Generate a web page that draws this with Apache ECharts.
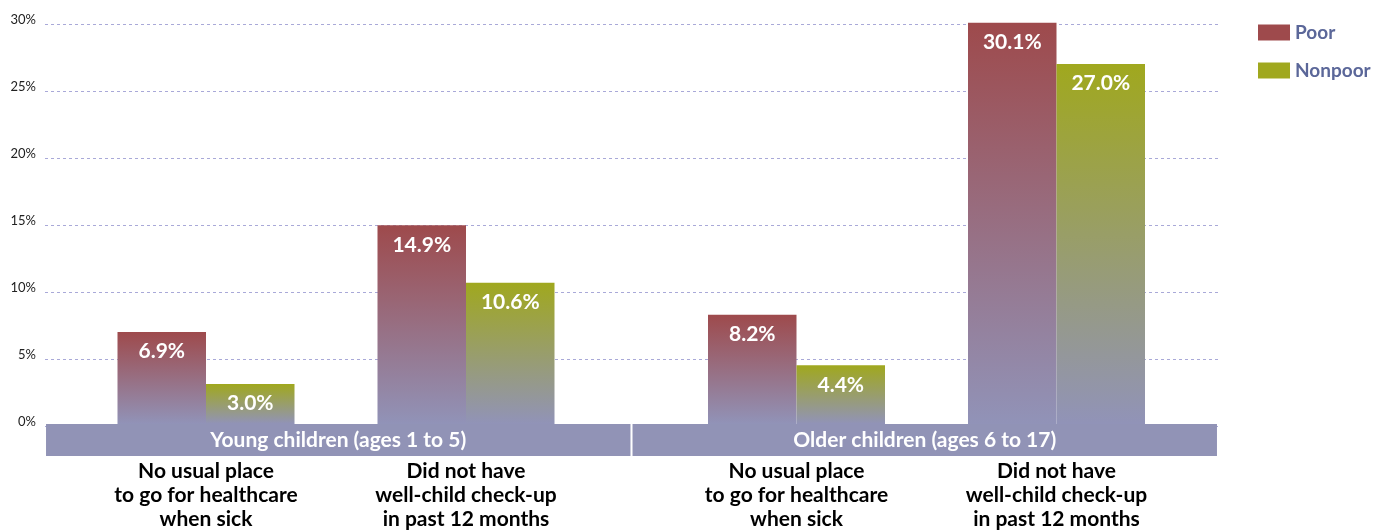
<!DOCTYPE html>
<html><head><meta charset="utf-8">
<script src="https://cdn.jsdelivr.net/npm/echarts@6/dist/echarts.min.js"></script>
<style>html,body{margin:0;padding:0;background:#fff;overflow:hidden}#c{width:1395px;height:531px}</style>
</head><body><div id="c"></div>
<script>
const groups = ['Young children (ages 1 to 5)', 'Older children (ages 6 to 17)'];
const measures = ['No usual place\nto go for healthcare\nwhen sick', 'Did not have\nwell-child check-up\nin past 12 months'];
const poorYoung = [6.9, 14.9];
const nonpoorYoung = [3.0, 10.6];
const poorOlder = [8.2, 30.1];
const nonpoorOlder = [4.4, 27.0];
const yTicks = [0, 5, 10, 15, 20, 25, 30];

const FONT = 'Lato, "DejaVu Sans", sans-serif';
const BOTTOM = '#9193b8';
function grad(top){
  return {type:'linear',x:0,y:0,x2:0,y2:1,colorStops:[{offset:0,color:top},{offset:1,color:BOTTOM}]};
}
const POOR = '#9e4a4c', NONPOOR = '#a0a81e';
const chart = echarts.init(document.getElementById('c'));
const gTop = 24, gHeight = 402;
function barSeries(name, data, idx, color){
  return {
    name, type:'bar', xAxisIndex:idx, yAxisIndex:idx, data, barWidth:88.5, barGap:'0%', clip:false,
    itemStyle:{color:grad(color)},
    label:{show:true, position:'insideTop', distance:9, color:'#fff', fontFamily:FONT, fontWeight:'bold', fontSize:21,
      formatter:p=>p.value.toFixed(1)+'%'}
  };
}
const catAxis = idx => ({
  type:'category', gridIndex:idx, data:measures, axisLine:{show:false}, axisTick:{show:false},
  axisLabel:{margin:35, color:'#000', fontFamily:FONT, fontWeight:'bold', fontSize:21, lineHeight:24, interval:0}
});
const hiddenY = idx => ({type:'value', gridIndex:idx, min:0, max:30, show:false});
chart.setOption({
  animation:false,
  legend:{
    orient:'vertical', left:1253, top:18, itemWidth:32, itemHeight:16, itemGap:19,
    textStyle:{color:'#5b6799', fontFamily:FONT, fontWeight:'bold', fontSize:19},
    data:[{name:'Poor', icon:'rect', itemStyle:{color:POOR}}, {name:'Nonpoor', icon:'rect', itemStyle:{color:NONPOOR}}]
  },
  grid:[
    {left:45, right:177, top:gTop, height:gHeight},
    {left:76, width:520, top:gTop, height:gHeight},
    {left:666.5, width:520, top:gTop, height:gHeight},
    {left:45, right:177, top:424, height:32}
  ],
  xAxis:[
    {type:'value', gridIndex:0, show:false},
    catAxis(1), catAxis(2),
    {type:'category', gridIndex:3, data:groups, show:false}
  ],
  yAxis:[
    {type:'value', gridIndex:0, min:yTicks[0], max:yTicks[yTicks.length-1], interval:5,
     axisLine:{show:false}, axisTick:{show:false},
     splitLine:{show:true, lineStyle:{color:'#a9a9d8', type:[3,3], width:1}},
     axisLabel:{margin:9, color:'#222', fontFamily:FONT, fontSize:13, verticalAlign:'bottom', lineHeight:8,
       formatter:v=>v+'%'}},
    hiddenY(1), hiddenY(2),
    {type:'value', gridIndex:3, min:0, max:1, show:false}
  ],
  series:[
    barSeries('Poor', poorYoung, 1, POOR),
    barSeries('Nonpoor', nonpoorYoung, 1, NONPOOR),
    barSeries('Poor', poorOlder, 2, POOR),
    barSeries('Nonpoor', nonpoorOlder, 2, NONPOOR),
    {type:'bar', xAxisIndex:3, yAxisIndex:3, data:groups.map(()=>1), barCategoryGap:'0.35%', silent:true,
     itemStyle:{color:'#9193b6'},
     label:{show:true, position:'inside', color:'#fff', fontFamily:FONT, fontSize:21, fontWeight:'bold',
       formatter:p=>groups[p.dataIndex]}}
  ]
});
</script></body></html>
